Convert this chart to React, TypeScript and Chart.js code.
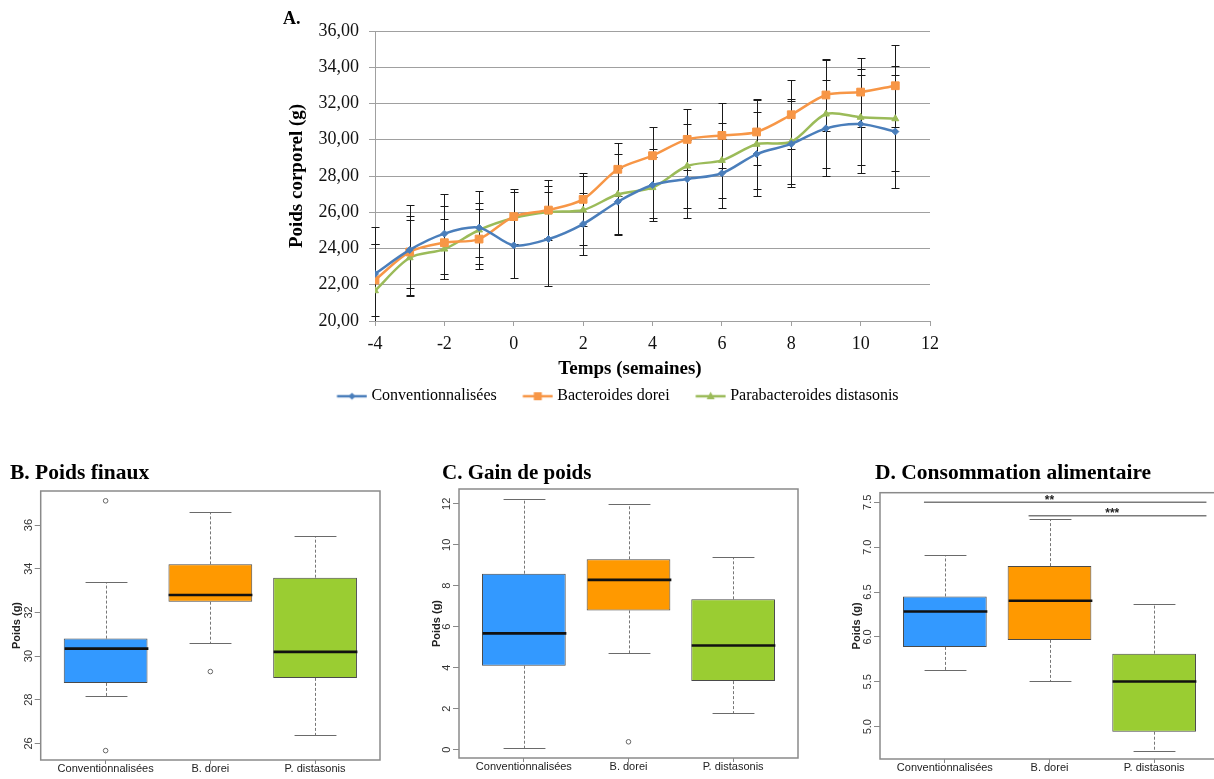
import React, { useEffect, useRef } from 'react';
import { Chart, registerables } from 'chart.js';

Chart.register(...registerables);

// ---------------- Panel A : body weight over time ----------------
const weeks = [-4, -3, -2, -1, 0, 1, 2, 3, 4, 5, 6, 7, 8, 9, 10, 11];
const seriesNames = ['Conventionnalisées', 'Bacteroides dorei', 'Parabacteroides distasonis'];
const convMean = [22.6, 23.92, 24.82, 25.15, 24.17, 24.52, 25.35, 26.58, 27.5, 27.83, 28.15, 29.21, 29.77, 30.63, 30.87, 30.45];
const convErr = [2.6, 2.5, 2.2, 2.0, 1.8, 2.6, 1.7, 1.85, 2.0, 2.15, 1.9, 2.3, 2.35, 2.65, 2.68, 3.1];
const doreiMean = [22.26, 23.81, 24.32, 24.52, 25.76, 26.12, 26.71, 28.37, 29.12, 30.02, 30.24, 30.43, 31.38, 32.47, 32.63, 32.98];
const doreiErr = [2.0, 2.0, 2.0, 1.65, 1.5, 1.65, 1.45, 1.45, 1.6, 1.7, 1.8, 1.8, 1.9, 2.0, 1.9, 2.27];
const distMean = [21.67, 23.49, 23.97, 25.02, 25.68, 26.01, 26.12, 26.99, 27.36, 28.55, 28.86, 29.75, 29.89, 31.42, 31.24, 31.16];
const distErr = [2.6, 2.1, 1.65, 1.5, 1.42, 1.45, 1.9, 2.2, 1.7, 2.3, 2.05, 2.45, 2.35, 3.0, 2.65, 2.9];
const xTicksA = [-4, -2, 0, 2, 4, 6, 8, 10, 12];
const yTicksA = [20, 22, 24, 26, 28, 30, 32, 34, 36];
const xTitleA = 'Temps (semaines)';
const yTitleA = 'Poids corporel (g)';

const seriesMeans = [convMean, doreiMean, distMean];
const seriesErrors = [convErr, doreiErr, distErr];
const lineColors = ['#4A7EBB', '#F79646', '#9BBB59'];
const markerStyles = ['rectRot', 'rect', 'triangle'];
const markerRadii = [3.5, 5.5, 4];

// ---------------- Box plots ----------------
const groupNames = ['Conventionnalisées', 'B. dorei', 'P. distasonis'];
const groupPositions = [1, 2, 3];
const boxColors = ['#3399FF', '#FF9900', '#9ACD32'];

// B. Poids finaux
const finalMin = [28.19, 30.58, 26.39];
const finalQ1 = [28.77, 32.49, 29.0];
const finalMed = [30.34, 32.8, 30.19];
const finalQ3 = [30.8, 34.2, 33.59];
const finalMax = [33.4, 36.6, 35.5];
const finalOutX = [1, 1, 2];
const finalOutY = [37.11, 25.67, 29.29];
const finalTicks = [26, 28, 30, 32, 34, 36];

// C. Gain de poids
const gainMin = [0.08, 4.7, 1.8];
const gainQ1 = [4.1, 6.8, 3.35];
const gainMed = [5.68, 8.29, 5.09];
const gainQ3 = [8.59, 9.29, 7.34];
const gainMax = [12.21, 11.97, 9.39];
const gainOutX = [2];
const gainOutY = [0.39];
const gainTicks = [0, 2, 4, 6, 8, 10, 12];

// D. Consommation alimentaire
const foodMin = [5.637, 5.514, 4.729];
const foodQ1 = [5.889, 5.967, 4.944];
const foodMed = [6.284, 6.403, 5.503];
const foodQ3 = [6.451, 6.789, 5.814];
const foodMax = [6.918, 7.311, 6.367];
const foodOutX: number[] = [];
const foodOutY: number[] = [];
const foodTicks = [5.0, 5.5, 6.0, 6.5, 7.0, 7.5];
const sigFrom = [0.8, 1.8];
const sigTo = [3.5, 3.5];
const sigY = [7.5, 7.35];
const sigLabelX = [2.0, 2.6];
const sigLabels = ['**', '***'];

// ---------------- Panel A config ----------------
function makeIcon(color: string, style: string) {
  const c = document.createElement('canvas');
  c.width = 48;
  c.height = 14;
  const g = c.getContext('2d') as CanvasRenderingContext2D;
  g.strokeStyle = color;
  g.lineWidth = 2.5;
  g.beginPath();
  g.moveTo(17.5, 7);
  g.lineTo(47.5, 7);
  g.stroke();
  g.fillStyle = color;
  const cx = 32.5, cy = 7;
  g.beginPath();
  if (style === 'rectRot') {
    g.moveTo(cx, cy - 3.5); g.lineTo(cx + 3.5, cy); g.lineTo(cx, cy + 3.5); g.lineTo(cx - 3.5, cy);
  } else if (style === 'rect') {
    g.rect(cx - 4, cy - 4, 8, 8);
  } else {
    g.moveTo(cx, cy - 4.5); g.lineTo(cx + 4, cy + 3); g.lineTo(cx - 4, cy + 3);
  }
  g.closePath();
  g.fill();
  return c;
}

const errorBarPlugin = {
  id: 'errorBars',
  beforeDatasetsDraw(chart: any) {
    const { ctx, chartArea: a, scales } = chart;
    const x = scales.x, y = scales.y;
    ctx.save();
    ctx.beginPath();
    ctx.rect(a.left - 5, a.top - 1, a.right - a.left + 10, a.bottom - a.top + 1);
    ctx.clip();
    ctx.strokeStyle = '#1a1a1a';
    ctx.lineWidth = 1;
    seriesMeans.forEach((means, s) => {
      const errs = seriesErrors[s];
      means.forEach((m, i) => {
        const px = Math.round(x.getPixelForValue(weeks[i])) + 0.5;
        const t = Math.round(y.getPixelForValue(m + errs[i])) + 0.5;
        const b = Math.round(y.getPixelForValue(m - errs[i])) + 0.5;
        ctx.beginPath();
        ctx.moveTo(px, t); ctx.lineTo(px, b);
        ctx.moveTo(px - 4, t); ctx.lineTo(px + 4, t);
        ctx.moveTo(px - 4, b); ctx.lineTo(px + 4, b);
        ctx.stroke();
      });
    });
    ctx.restore();
  },
};

const xTitlePlugin = {
  id: 'xTitleA',
  afterDraw(chart: any) {
    const { ctx } = chart;
    ctx.save();
    ctx.font = 'bold 19px "Liberation Serif"';
    ctx.fillStyle = '#000';
    ctx.textAlign = 'center';
    ctx.textBaseline = 'middle';
    ctx.fillText(xTitleA, 350, 369);
    ctx.restore();
  },
};

function lineConfig(): any {
  const icons = lineColors.map((c, i) => makeIcon(c, markerStyles[i]));
  const serif = 'Liberation Serif';
  return {
    type: 'line',
    data: {
      datasets: seriesMeans.map((means, s) => ({
        label: seriesNames[s],
        data: weeks.map((w, i) => ({ x: w, y: means[i] })),
        borderColor: lineColors[s],
        backgroundColor: lineColors[s],
        pointBackgroundColor: lineColors[s],
        pointBorderColor: lineColors[s],
        pointStyle: markerStyles[s],
        pointRadius: markerRadii[s],
        pointBorderWidth: 1,
        borderWidth: 2.5,
        tension: 0.3,
        fill: false,
      })),
    },
    options: {
      animation: false,
      responsive: false,
      events: [],
      layout: { padding: { top: 31, left: 12, right: 25, bottom: 5.8 } },
      scales: {
        x: {
          type: 'linear',
          min: -4,
          max: 12,
          afterBuildTicks: (s: any) => { s.ticks = xTicksA.map((v) => ({ value: v })); },
          afterFit: (s: any) => { s.height = 54.7; },
          ticks: {
            callback: (v: any) => String(v),
            font: { family: serif, size: 18 },
            color: '#111',
            padding: 7,
            maxRotation: 0,
            autoSkip: false,
          },
          grid: { drawOnChartArea: false, drawTicks: true, tickLength: 5, color: '#a0a0a0' },
          border: { color: '#a0a0a0' },
        },
        y: {
          min: 20,
          max: 36,
          afterBuildTicks: (s: any) => { s.ticks = yTicksA.map((v) => ({ value: v })); },
          afterFit: (s: any) => { s.width = 83; },
          ticks: {
            callback: (v: any) => Number(v).toFixed(2).replace('.', ','),
            font: { family: serif, size: 18 },
            color: '#111',
            padding: 10,
          },
          grid: { color: '#a0a0a0', tickLength: 6 },
          border: { color: '#a0a0a0' },
          title: {
            display: true,
            text: yTitleA,
            font: { family: serif, size: 19, weight: 'bold' },
            color: '#000',
            padding: { top: -6.4, bottom: 0 },
          },
        },
      },
      plugins: {
        tooltip: { enabled: false },
        legend: {
          position: 'bottom',
          align: 'center',
          labels: {
            usePointStyle: true,
            pointStyleWidth: 40,
            padding: 12.5,
            color: '#000',
            font: { family: serif, size: 16 },
            generateLabels: () =>
              seriesNames.map((t, i) => ({
                text: t,
                pointStyle: icons[i],
                fillStyle: lineColors[i],
                strokeStyle: lineColors[i],
                lineWidth: 0,
                hidden: false,
                datasetIndex: i,
                fontColor: '#000',
              })),
          },
        },
      },
    },
    plugins: [errorBarPlugin, xTitlePlugin],
  };
}

// ---------------- Box plot config ----------------
type Panel = {
  min: number[]; q1: number[]; med: number[]; q3: number[]; max: number[];
  outX: number[]; outY: number[]; ticks: number[]; ymin: number; ymax: number;
  decimals: number; padTop: number; padRight: number; yw: number; xh: number; yTickPad: number;
  sig?: boolean;
};

const panelB: Panel = {
  min: finalMin, q1: finalQ1, med: finalMed, q3: finalQ3, max: finalMax,
  outX: finalOutX, outY: finalOutY, ticks: finalTicks, ymin: 25.24, ymax: 37.56, decimals: 0,
  padTop: 36, padRight: 20, yw: 40.7, xh: 19, yTickPad: 0,
};
const panelC: Panel = {
  min: gainMin, q1: gainQ1, med: gainMed, q3: gainQ3, max: gainMax,
  outX: gainOutX, outY: gainOutY, ticks: gainTicks, ymin: -0.4, ymax: 12.72, decimals: 0,
  padTop: 34, padRight: 22, yw: 39, xh: 21, yTickPad: 0,
};
const panelD: Panel = {
  min: foodMin, q1: foodQ1, med: foodMed, q3: foodQ3, max: foodMax,
  outX: foodOutX, outY: foodOutY, ticks: foodTicks, ymin: 4.64, ymax: 7.607, decimals: 1,
  padTop: 37.7, padRight: 3, yw: 40, xh: 20, yTickPad: -1.5, sig: true,
};

function makeBoxPlugin(p: Panel) {
  return {
    id: 'boxExtras',
    afterDatasetsDraw(chart: any) {
      const { ctx, chartArea: a, scales } = chart;
      const xs = scales.x, ys = scales.y;
      const unit = xs.getPixelForValue(2) - xs.getPixelForValue(1);
      const line = (x1: number, y1: number, x2: number, y2: number) => {
        ctx.beginPath(); ctx.moveTo(x1, y1); ctx.lineTo(x2, y2); ctx.stroke();
      };
      ctx.save();
      p.med.forEach((m, i) => {
        const cx = Math.round(xs.getPixelForValue(groupPositions[i])) + 0.5;
        const yMax = Math.round(ys.getPixelForValue(p.max[i])) + 0.5;
        const yQ3 = ys.getPixelForValue(p.q3[i]);
        const yQ1 = ys.getPixelForValue(p.q1[i]);
        const yMin = Math.round(ys.getPixelForValue(p.min[i])) + 0.5;
        const yMed = ys.getPixelForValue(m);
        ctx.strokeStyle = '#777';
        ctx.lineWidth = 1;
        ctx.setLineDash([3, 2]);
        line(cx, yQ3, cx, yMax);
        line(cx, yQ1, cx, yMin);
        ctx.setLineDash([]);
        ctx.strokeStyle = '#6a6a6a';
        ctx.lineWidth = 1.2;
        const cap = unit * 0.2;
        line(cx - cap, yMax, cx + cap, yMax);
        line(cx - cap, yMin, cx + cap, yMin);
        ctx.strokeStyle = '#111';
        ctx.lineWidth = 2.6;
        const half = unit * 0.4;
        line(cx - half, yMed, cx + half, yMed);
      });
      ctx.strokeStyle = '#8a8a8a';
      ctx.lineWidth = 1.5;
      ctx.strokeRect(a.left, a.top, a.right - a.left, a.bottom - a.top);
      if (p.sig) {
        sigY.forEach((v, k) => {
          const yy = ys.getPixelForValue(v);
          ctx.strokeStyle = '#7a7a7a';
          ctx.lineWidth = 1.4;
          line(xs.getPixelForValue(sigFrom[k]), yy, xs.getPixelForValue(sigTo[k]), yy);
          ctx.fillStyle = '#222';
          ctx.font = 'bold 12px "Liberation Sans"';
          ctx.textAlign = 'center';
          ctx.textBaseline = 'alphabetic';
          ctx.fillText(sigLabels[k], xs.getPixelForValue(sigLabelX[k]), yy + 1.5);
        });
      }
      ctx.restore();
    },
  };
}

function boxConfig(p: Panel): any {
  const sans = 'Liberation Sans';
  return {
    type: 'bar',
    data: {
      datasets: [
        {
          type: 'bar',
          data: p.q1.map((v, i) => ({ x: groupPositions[i], y: [v, p.q3[i]] })),
          backgroundColor: boxColors,
          borderColor: '#4a4a4a',
          borderWidth: 1,
          borderSkipped: false,
          categoryPercentage: 1,
          barPercentage: 0.8,
          grouped: false,
        },
        {
          type: 'scatter',
          data: p.outX.map((x, i) => ({ x, y: p.outY[i] })),
          pointStyle: 'circle',
          pointRadius: 2.3,
          pointBorderWidth: 1,
          pointBorderColor: '#666',
          pointBackgroundColor: 'rgba(0,0,0,0)',
        },
      ],
    },
    options: {
      animation: false,
      responsive: false,
      events: [],
      layout: { padding: { top: p.padTop, left: 0, right: p.padRight, bottom: 0 } },
      scales: {
        x: {
          type: 'linear',
          min: 0.38,
          max: 3.62,
          offset: false,
          afterBuildTicks: (s: any) => { s.ticks = groupPositions.map((v) => ({ value: v })); },
          afterFit: (s: any) => { s.height = p.xh; },
          ticks: {
            callback: (v: any) => groupNames[Math.round(Number(v)) - 1],
            font: { family: sans, size: 11 },
            color: '#222',
            padding: -1.5,
            maxRotation: 0,
            autoSkip: false,
          },
          grid: { offset: false, drawOnChartArea: false, drawTicks: true, tickLength: 4, color: '#888' },
          border: { display: false },
        },
        y: {
          min: p.ymin,
          max: p.ymax,
          afterBuildTicks: (s: any) => { s.ticks = p.ticks.map((v) => ({ value: v })); },
          afterFit: (s: any) => { s.width = p.yw; },
          ticks: {
            callback: (v: any) => Number(v).toFixed(p.decimals),
            font: { family: sans, size: 11 },
            color: '#333',
            minRotation: 90,
            maxRotation: 90,
            crossAlign: 'center',
            padding: p.yTickPad,
          },
          grid: { drawOnChartArea: false, drawTicks: true, tickLength: 6, color: '#888' },
          border: { display: false },
          title: {
            display: true,
            text: 'Poids (g)',
            font: { family: sans, size: 11, weight: 'bold' },
            color: '#222',
            padding: { top: 10, bottom: 0 },
          },
        },
      },
      plugins: { legend: { display: false }, tooltip: { enabled: false } },
    },
    plugins: [makeBoxPlugin(p)],
  };
}

// ---------------- React ----------------
function CanvasChart(props: { make: () => any; left: number; top: number; width: number; height: number }) {
  const ref = useRef<HTMLCanvasElement | null>(null);
  useEffect(() => {
    const ch = new Chart(ref.current as HTMLCanvasElement, props.make());
    return () => ch.destroy();
  }, []);
  return (
    <canvas
      ref={ref}
      width={props.width}
      height={props.height}
      style={{ position: 'absolute', left: props.left, top: props.top, width: props.width, height: props.height }}
    />
  );
}

const titleStyle = (left: number, top: number, size: number): React.CSSProperties => ({
  position: 'absolute',
  left,
  top,
  fontFamily: '"Liberation Serif", serif',
  fontWeight: 'bold',
  fontSize: size,
  lineHeight: `${size}px`,
  color: '#000',
  whiteSpace: 'nowrap',
});

export default function App() {
  return (
    <div style={{ position: 'absolute', left: 0, top: 0, width: 1214, height: 779, overflow: 'hidden', background: '#fff' }}>
      <CanvasChart make={lineConfig} left={280} top={0} width={675} height={420} />
      <div style={titleStyle(283, 9, 18)}>A.</div>
      <CanvasChart make={() => boxConfig(panelB)} left={0} top={455} width={400} height={324} />
      <CanvasChart make={() => boxConfig(panelC)} left={420} top={455} width={400} height={324} />
      <CanvasChart make={() => boxConfig(panelD)} left={840} top={455} width={382} height={324} />
      <div style={titleStyle(10, 462, 21.5)}>B. Poids finaux</div>
      <div style={titleStyle(442, 462, 21)}>C. Gain de poids</div>
      <div style={titleStyle(875, 462, 21.5)}>D. Consommation alimentaire</div>
    </div>
  );
}
